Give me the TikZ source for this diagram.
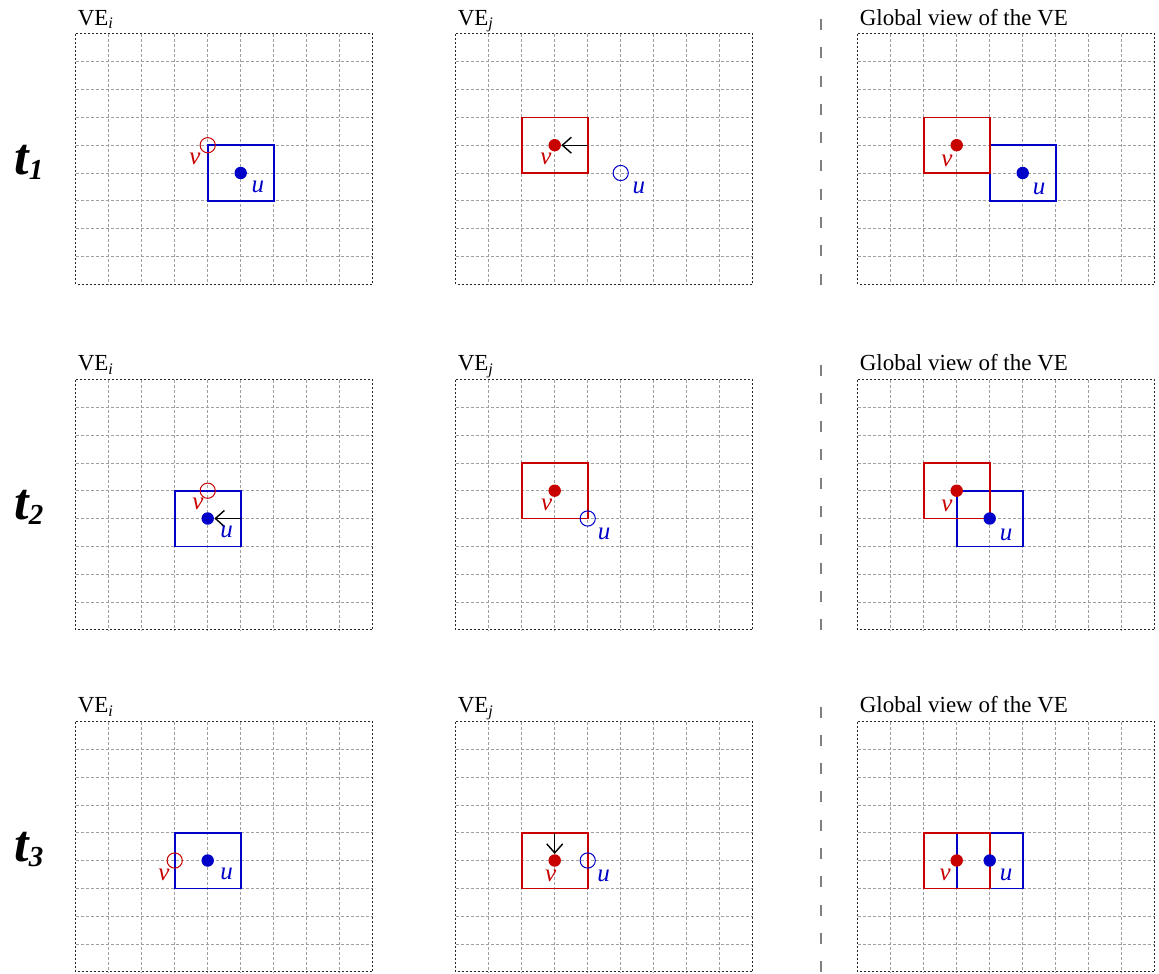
\documentclass[tikz,border=0pt]{standalone}
\usepackage{fontspec}
\setmainfont{Liberation Serif}
\usetikzlibrary{arrows.meta}
\definecolor{vRed}{HTML}{C80000}
\definecolor{uBlue}{HTML}{0000C8}

\begin{document}
\begin{tikzpicture}[x=0.5pt, y=-0.5pt,
    cellgrid/.style={gray!75, line width=0.4pt, dash pattern=on 1.5pt off 1pt},
    veframe/.style={black!85, line width=0.5pt, dash pattern=on 1pt off 1pt},
    panel/.style={shift={(#1)}, x=16.5pt, y=-13.9pt},
    title/.style={anchor=base west, inner sep=0pt, font=\fontsize{11.5}{13}\selectfont},
    tlabel/.style={inner sep=0pt, font=\fontsize{26}{28}\selectfont\bfseries\itshape},
    sep/.style={gray, line width=1pt, dash pattern=on 5.5pt off 8.65pt},
    vbox/.style={vRed, line width=0.8pt},
    ubox/.style={uBlue, line width=0.8pt},
    vdot/.style={circle, fill=vRed, inner sep=0pt, minimum size=6.2pt},
    udot/.style={circle, fill=uBlue, inner sep=0pt, minimum size=6.2pt},
    vghost/.style={circle, draw=vRed, line width=0.5pt, inner sep=0pt, minimum size=7.6pt},
    ughost/.style={circle, draw=uBlue, line width=0.5pt, inner sep=0pt, minimum size=7.6pt},
    vlab/.style={text=vRed, inner sep=0pt, font=\fontsize{12.5}{14}\selectfont\itshape},
    ulab/.style={text=uBlue, inner sep=0pt, font=\fontsize{12.5}{14}\selectfont\itshape},
    move/.style={-{Straight Barb[length=4.5pt, width=8pt, line width=0.7pt]}, black, line width=0.6pt}]
  \useasboundingbox (0,0) rectangle (1159,973);
  % grids, frames and titles
  \foreach \ry [count=\r] in {34, 379.5, 721.5} {
    \foreach \cx/\ttl [count=\c] in {75.7/{VE\textsubscript{\textit{i}}}, 455.7/{VE\textsubscript{\textit{j}}}, 857.7/{Global view of the VE}} {
      \begin{scope}[panel={\cx,\ry}]
        \foreach \k in {1,...,8} {
          \draw[cellgrid] (\k,0) -- (\k,9);
          \draw[cellgrid] (0,\k) -- (9,\k);
        }
        \draw[veframe] (0,0) rectangle (9,9);
        \node[title] (ttl\r\c) at (0.05,-0.32) {\ttl};
      \end{scope}
    }
    % time step and separator
    \node[tlabel] (t\r) at (29, \ry + 128) {t\raisebox{-2.5pt}{\fontsize{14.5}{16}\selectfont\r}};
    \draw[sep] (821, \ry - 15) -- (821, \ry + 251);
  }

  % t1
  \begin{scope}[panel={75.7,34}]
    \draw[ubox] (4,4) rectangle (6,6);
    \node[udot] (u11) at (5,5) {};
    \node[vghost] (v11) at (4,4) {};
    \node[ulab] (ul11) at ([shift={(0.52,0.5)}]u11) {u};
    \node[vlab] (vl11) at ([shift={(-0.39,0.5)}]v11) {v};
  \end{scope}
  \begin{scope}[panel={455.7,34}]
    \draw[vbox] (2,3) rectangle (4,5);
    \node[vdot] (v12) at (3,4) {};
    \node[ughost] (u12) at (5,5) {};
    \coordinate (a12) at (4,4);
    \draw[move] (a12) -- (v12);
    \node[ulab] (ul12) at ([shift={(0.55,0.52)}]u12) {u};
    \node[vlab] (vl12) at ([shift={(-0.27,0.5)}]v12) {v};
  \end{scope}
  \begin{scope}[panel={857.7,34}]
    \draw[ubox] (4,4) rectangle (6,6);
    \draw[vbox] (2,3) rectangle (4,5);
    \node[vdot] (v13) at (3,4) {};
    \node[udot] (u13) at (5,5) {};
    \node[ulab] (ul13) at ([shift={(0.5,0.58)}]u13) {u};
    \node[vlab] (vl13) at ([shift={(-0.3,0.56)}]v13) {v};
  \end{scope}

  % t2
  \begin{scope}[panel={75.7,379.5}]
    \draw[ubox] (3,4) rectangle (5,6);
    \node[udot] (u21) at (4,5) {};
    \node[vghost] (v21) at (4,4) {};
    \coordinate (a21) at (5,5);
    \draw[move] (a21) -- (u21);
    \node[ulab] (ul21) at ([shift={(0.57,0.47)}]u21) {u};
    \node[vlab] (vl21) at ([shift={(-0.3,0.47)}]v21) {v};
  \end{scope}
  \begin{scope}[panel={455.7,379.5}]
    \draw[vbox] (2,3) rectangle (4,5);
    \node[vdot] (v22) at (3,4) {};
    \node[ughost] (u22) at (4,5) {};
    \node[ulab] (ul22) at ([shift={(0.5,0.55)}]u22) {u};
    \node[vlab] (vl22) at ([shift={(-0.24,0.5)}]v22) {v};
  \end{scope}
  \begin{scope}[panel={857.7,379.5}]
    \draw[ubox] (3,4) rectangle (5,6);
    \draw[vbox] (2,3) rectangle (4,5);
    \node[vdot] (v23) at (3,4) {};
    \node[udot] (u23) at (4,5) {};
    \node[ulab] (ul23) at ([shift={(0.5,0.58)}]u23) {u};
    \node[vlab] (vl23) at ([shift={(-0.3,0.56)}]v23) {v};
  \end{scope}

  % t3
  \begin{scope}[panel={75.7,721.5}]
    \draw[ubox] (3,4) rectangle (5,6);
    \node[udot] (u31) at (4,5) {};
    \node[vghost] (v31) at (3,5) {};
    \node[ulab] (ul31) at ([shift={(0.57,0.47)}]u31) {u};
    \node[vlab] (vl31) at ([shift={(-0.33,0.5)}]v31) {v};
  \end{scope}
  \begin{scope}[panel={455.7,721.5}]
    \draw[vbox] (2,4) rectangle (4,6);
    \node[vdot] (v32) at (3,5) {};
    \node[ughost] (u32) at (4,5) {};
    \coordinate (a32) at (3,4);
    \draw[move] (a32) -- (v32);
    \node[ulab] (ul32) at ([shift={(0.48,0.57)}]u32) {u};
    \node[vlab] (vl32) at ([shift={(-0.12,0.55)}]v32) {v};
  \end{scope}
  \begin{scope}[panel={857.7,721.5}]
    \draw[ubox] (3,4) rectangle (5,6);
    \draw[vbox] (2,4) rectangle (4,6);
    \node[vdot] (v33) at (3,5) {};
    \node[udot] (u33) at (4,5) {};
    \node[ulab] (ul33) at ([shift={(0.5,0.5)}]u33) {u};
    \node[vlab] (vl33) at ([shift={(-0.35,0.5)}]v33) {v};
  \end{scope}
\end{tikzpicture}
\end{document}
